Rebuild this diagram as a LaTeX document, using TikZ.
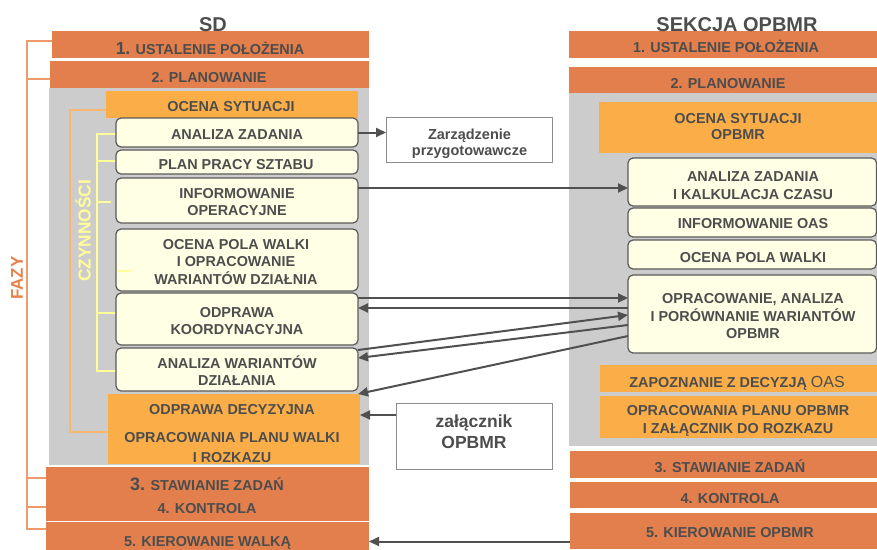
\documentclass[tikz,border=0pt]{standalone}
\usepackage{fontspec}
\setmainfont{Liberation Sans}
\usetikzlibrary{arrows.meta,calc}
\definecolor{phaseC}{HTML}{E27F4C}
\definecolor{lightO}{HTML}{FBAE48}
\definecolor{grayC}{HTML}{CCCCCC}
\definecolor{actF}{HTML}{FFFFE5}
\definecolor{actB}{HTML}{5A5A5A}
\definecolor{txtC}{HTML}{4D4D4D}
\definecolor{arrC}{HTML}{505050}
\definecolor{fazyC}{HTML}{EE9A6C}
\definecolor{fazyT}{HTML}{E8804A}
\definecolor{czynC}{HTML}{F8B870}
\definecolor{yelC}{HTML}{FFFF99}
\newcommand\mybox[6]{\node[#1,anchor=north west,minimum width=#5pt,minimum height=#6pt,inner sep=0pt,outer sep=0pt] (#2) at (#3,#4) {};}
\newcommand\mlines[1]{\begin{tabular}[t]{@{}c@{}}#1\end{tabular}}
\newcommand\myfs[1]{\fontsize{#1}{17.5}\selectfont}
\begin{document}
\begin{tikzpicture}[x=1pt,y=-1pt,
  phase/.style={fill=phaseC,draw=none},
  lo/.style={fill=lightO,draw=none},
  bg/.style={fill=grayC,draw=none},
  act/.style={fill=actF,draw=actB,line width=1.2pt,rounded corners=5pt},
  notebox/.style={fill=white,draw=gray!90,line width=1pt},
  lab/.style={anchor=base,inner sep=0pt,text=txtC,font=\bfseries\myfs{14.4}},
  title/.style={anchor=base,inner sep=0pt,text=txtC,font=\bfseries\myfs{20}},
  arr/.style={draw=arrC,line width=2pt,-{Triangle[length=10pt,width=9pt]}}]
\useasboundingbox (0,0) rectangle (877,549);

% ---------- left column ----------
\mybox{bg}{lgray}{49}{88}{320}{377}
\mybox{phase}{l1}{52}{31}{317}{27}
\mybox{phase}{l2}{50}{61}{319}{27}
\mybox{phase}{l34}{46}{467}{323}{54}
\mybox{phase}{l5}{46}{522}{323}{28}
\node[title] (sd) at (213,31.5) {SD};

% brackets
\draw[fazyC,line width=1.5pt] (l1.west |- 0,41) -| (27,529) -- (l5.west |- 0,529);
\draw[fazyC,line width=1.5pt] (27,79) -- (l2.west |- 0,79);
\draw[fazyC,line width=1.5pt] (27,478) -- (l34.west |- 0,478);
\draw[fazyC,line width=1.5pt] (27,507) -- (l34.west |- 0,507);
\node[rotate=90,text=fazyT,font=\bfseries\myfs{17}] (fazy) at (17,278) {FAZY};

\mybox{lo}{locs}{106}{91}{252}{27}
\mybox{lo}{ldec}{108}{394}{252}{70}
\draw[czynC,line width=1.2pt] (locs.west |- 0,110) -| (70,432) -- (ldec.west |- 0,432);
\node[rotate=90,text=yelC,font=\bfseries\myfs{17.3}] (czyn) at (83,231) {CZYNNOŚCI};

\draw[yelC,line width=1.2pt] (116,134) -| (97,371) -- (116,371);
\draw[yelC,line width=1.2pt] (97,161) -- (116,161);
\draw[yelC,line width=1.2pt] (97,202) -- (111,202);
\draw[yelC,line width=1.2pt] (97,313) -- (116,313);

\mybox{act}{anz}{116}{118}{242}{29}
\mybox{act}{pps}{116}{150}{242}{24}
\mybox{act}{infop}{116}{178}{242}{45}
\mybox{act}{ocpw}{116}{229}{242}{62}
\mybox{act}{odk}{116}{293}{242}{52}
\mybox{act}{anw}{116}{348}{242}{43}
\draw[yelC,line width=1.2pt] (118,271) -- (131,271);

\node[lab] (t-l1) at (210,54) {{\myfs{17.5}1.} USTALENIE POŁOŻENIA};
\node[lab] (t-l2) at (209,82) {2. PLANOWANIE};
\node[lab] (t-locs) at (231,111) {OCENA SYTUACJI};
\node[lab] (t-anz) at (237,139.3) {ANALIZA ZADANIA};
\node[lab] (t-pps) at (236,169) {PLAN PRACY SZTABU};
\node[lab] (t-infop) at (237,198) {\mlines{INFORMOWANIE\\OPERACYJNE}};
\node[lab] (t-ocpw) at (236,249) {\mlines{OCENA POLA WALKI\\I OPRACOWANIE\\WARIANTÓW DZIAŁNIA}};
\node[lab] (t-odk) at (237,317) {\mlines{ODPRAWA\\KOORDYNACYJNA}};
\node[lab] (t-anw) at (237,368) {\mlines{ANALIZA WARIANTÓW\\DZIAŁANIA}};
\node[lab] (t-dec1) at (232,414) {ODPRAWA DECYZYJNA};
\node[lab] (t-dec2) at (232,442) {\mlines{OPRACOWANIA PLANU WALKI\\[2.5pt]I ROZKAZU}};
\node[lab] (t-l3) at (207,490) {{\myfs{18}3.} STAWIANIE ZADAŃ};
\node[lab] (t-l4) at (207,513) {4. KONTROLA};
\node[lab] (t-l5) at (207.5,546) {5. KIEROWANIE WALKĄ};

% ---------- middle notes ----------
\mybox{notebox}{zarz}{386}{117}{166}{45}
\node[lab,font=\bfseries\fontsize{14.5}{16}\selectfont] (t-zarz) at (469.5,139) {\mlines{Zarządzenie\\przygotowawcze}};
\mybox{notebox}{zal}{396}{403}{156}{66}
\node[lab,font=\bfseries\fontsize{17.5}{20.5}\selectfont] (t-zal) at (474,427.7) {\mlines{załącznik\\OPBMR}};

% ---------- right column ----------
\mybox{phase}{r1}{569}{31}{308}{27}
\mybox{phase}{r2}{569}{67}{308}{26}
\mybox{bg}{rgray}{569}{93}{308}{353}
\mybox{lo}{rocs}{599}{102}{278}{51}
\mybox{act}{anzk}{628}{158}{248.5}{48}
\mybox{act}{infoas}{628}{208}{248.5}{29}
\mybox{act}{rocpw}{628}{240}{248.5}{29}
\mybox{act}{opr}{628}{275}{248.5}{78}
\mybox{lo}{zap}{600}{365}{277}{27}
\mybox{lo}{rplan}{600}{396}{277}{42}
\mybox{phase}{r3}{570}{451}{307}{27}
\mybox{phase}{r4}{570}{482}{307}{26}
\mybox{phase}{r5}{570}{513}{307}{36}
\node[title] (sek) at (737,31.5) {SEKCJA OPBMR};

\node[lab] (t-r1) at (726,52) {1. USTALENIE POŁOŻENIA};
\node[lab] (t-r2) at (728,88) {2. PLANOWANIE};
\node[lab,font=\bfseries\fontsize{14.4}{16}\selectfont] (t-rocs) at (738,123.3) {\mlines{OCENA SYTUACJI\\OPBMR}};
\node[lab] (t-anzk) at (753,181.7) {\mlines{ANALIZA ZADANIA\\I KALKULACJA CZASU}};
\node[lab] (t-infoas) at (753,228) {INFORMOWANIE OAS};
\node[lab] (t-rocpw) at (753,262) {OCENA POLA WALKI};
\node[lab] (t-opr) at (753,303.3) {\mlines{OPRACOWANIE, ANALIZA\\I PORÓWNANIE WARIANTÓW\\OPBMR}};
\node[lab] (t-zap) at (737,387) {ZAPOZNANIE Z DECYZJĄ {\mdseries\myfs{16}OAS}};
\node[lab] (t-rplan) at (738,415.7) {\mlines{OPRACOWANIA PLANU OPBMR\\I ZAŁĄCZNIK DO ROZKAZU}};
\node[lab] (t-r3) at (730,472) {3. STAWIANIE ZADAŃ};
\node[lab] (t-r4) at (730,503) {4. KONTROLA};
\node[lab] (t-r5) at (730,537) {5. KIEROWANIE OPBMR};

% ---------- connectors ----------
\draw[arr] (anz.east) -- (anz.east -| zarz.west);
\draw[arr] ([yshift=12.5pt]infop.east) -- ([yshift=12.5pt]infop.east -| anzk.west);
\draw[arr] ([yshift=21pt]odk.east) -- ([yshift=21pt]odk.east -| opr.west);
\draw[arr] ([yshift=11pt]odk.east -| opr.west) -- ([yshift=11pt]odk.east);
\draw[arr] ([yshift=19.5pt]anw.east) -- ([yshift=-1pt]opr.west);
\draw[arr] ([yshift=-11pt]opr.west) -- ([yshift=11.5pt]anw.east);
\draw[arr] ([yshift=-22pt]opr.west) -- ([xshift=-2pt]ldec.north east);
\draw[arr] ([yshift=21pt]zal.west) -- ([yshift=21pt]zal.west -| ldec.east);
\draw[arr] ([yshift=-10.5pt]r5.west) -- ([yshift=-10.5pt]r5.west -| l5.east);
\end{tikzpicture}
\end{document}
